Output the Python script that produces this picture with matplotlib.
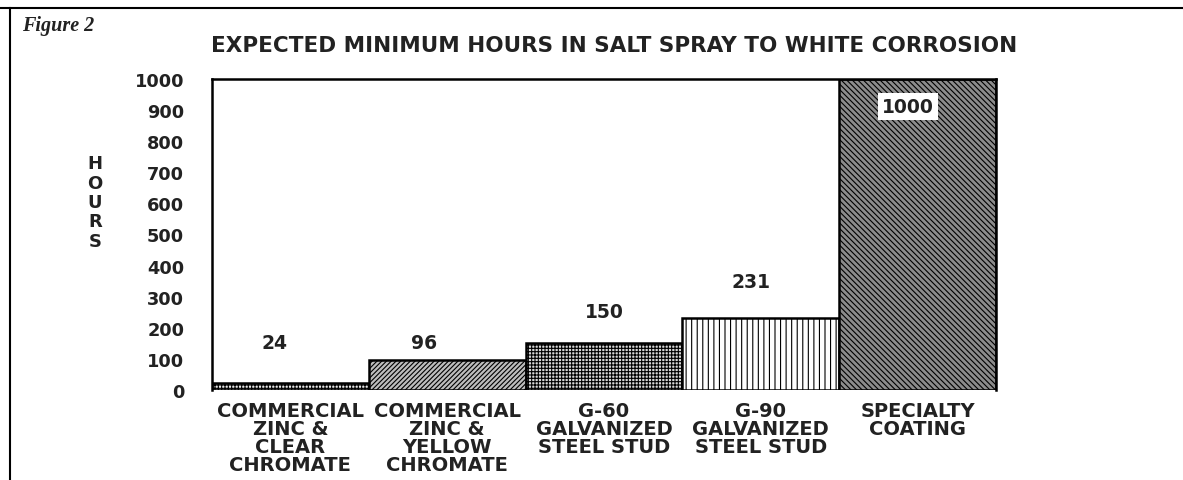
import matplotlib
matplotlib.use("Agg")
import matplotlib.pyplot as plt
from matplotlib.lines import Line2D

categories = ["COMMERCIAL\nZINC &\nCLEAR\nCHROMATE",
              "COMMERCIAL\nZINC &\nYELLOW\nCHROMATE",
              "G-60\nGALVANIZED\nSTEEL STUD",
              "G-90\nGALVANIZED\nSTEEL STUD",
              "SPECIALTY\nCOATING"]
hours = [24, 96, 150, 231, 1000]
value_labels = ["24", "96", "150", "231", "1000"]
yticks = [0, 100, 200, 300, 400, 500, 600, 700, 800, 900, 1000]

# layout (label positions, styling) kept separate from data
label_y = [154, 154, 252, 350, 912]
label_dx = [-0.1, -0.15, 0.0, -0.06, -0.06]
hatches = ["+++++", "///////", "+++++", "|||", "\\\\\\\\\\\\"]
fills = ["#e8e8e8", "#bdbdbd", "#d8d8d8", "#ffffff", "#8c8c8c"]

plt.rcParams['font.family'] = ['DejaVu Sans']
plt.rcParams['hatch.linewidth'] = 0.8

fig = plt.figure(figsize=(11.83, 4.81), dpi=100)
ax = fig.add_axes([212/1183, 1-391/481, 784/1183, 311/481])

x = list(range(len(hours)))
for i in x:
    ax.bar(i, hours[i], width=1.0, color=fills[i], edgecolor="black",
           linewidth=1.8, hatch=hatches[i], zorder=2)

for i in x:
    t = ax.text(i + label_dx[i], label_y[i], value_labels[i], ha="center", va="center",
                fontsize=13.5, fontweight="bold", color="#222222", zorder=3)
    if i == len(hours) - 1:
        t.set_bbox(dict(facecolor="white", edgecolor="none", pad=3))

ax.set_xlim(-0.5, 4.5)
ax.set_ylim(0, 1000)
ax.set_yticks(yticks)
ax.set_yticklabels([str(v) for v in yticks], fontsize=12.8, fontweight="bold", color="#222222")
ax.set_xticks(x)
ax.set_xticklabels(categories, fontsize=14, fontweight="bold", color="#222222",
                   linespacing=0.92)
ax.tick_params(axis="both", length=0)
ax.tick_params(axis="y", pad=20)
ax.tick_params(axis="x", pad=8)
for s in ax.spines.values():
    s.set_linewidth(1.8)
ax.spines["bottom"].set_visible(False)

fig.text(95/1183, 1-203/481, "H\nO\nU\nR\nS", ha="center", va="center",
         fontsize=13, fontweight="bold", color="#222222", linespacing=1.1)

fig.text(614/1183, 1-46/481, "EXPECTED MINIMUM HOURS IN SALT SPRAY TO WHITE CORROSION",
         ha="center", va="center", fontsize=15.5, fontweight="bold", color="#222222")

fig.text(22/1183, 1-26/481, "Figure 2", ha="left", va="center", fontsize=14.5,
         family="Liberation Serif", style="italic", fontweight="bold", color="#222222")

fig.add_artist(Line2D([0, 1], [1-9/481, 1-9/481], transform=fig.transFigure,
                      color="black", linewidth=1.5))
fig.add_artist(Line2D([10/1183, 10/1183], [0, 1-9/481], transform=fig.transFigure,
                      color="black", linewidth=1.5))

fig.savefig("out.png", dpi=100)
